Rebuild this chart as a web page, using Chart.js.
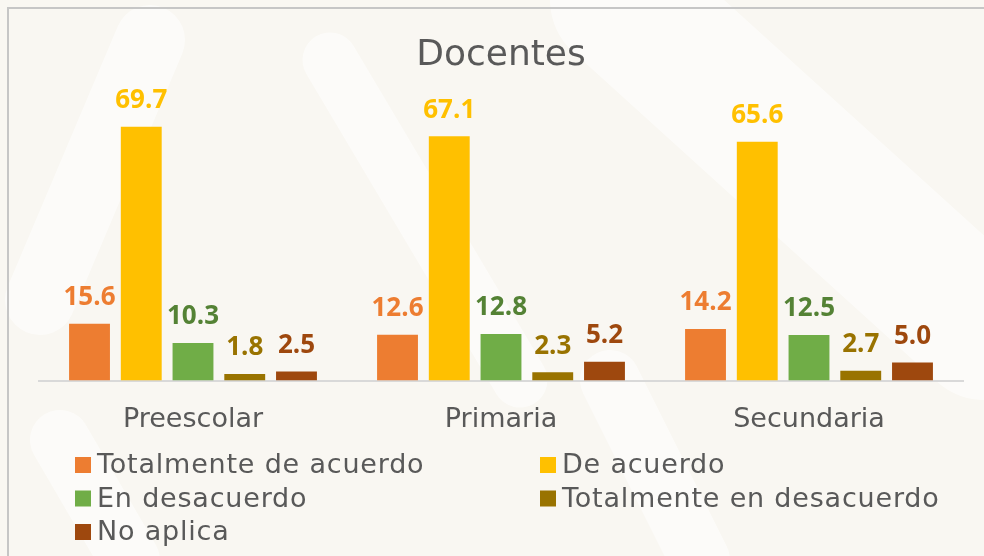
<!DOCTYPE html>
<html>
<head>
<meta charset="utf-8">
<script src="https://cdn.jsdelivr.net/npm/chart.js@4.4.1/dist/chart.umd.min.js"></script>
<style>
  html, body { margin: 0; padding: 0; background: #faf8f3; }
  #wrap { width: 984px; height: 556px; position: relative; }
</style>
</head>
<body>
<div id="wrap"><canvas id="c" width="984" height="556"></canvas></div>
<script>
const categories = ['Preescolar', 'Primaria', 'Secundaria'];
const seriesNames = ['Totalmente de acuerdo', 'De acuerdo', 'En desacuerdo', 'Totalmente en desacuerdo', 'No aplica'];
const totalmenteDeAcuerdo = [15.6, 12.6, 14.2];
const deAcuerdo = [69.7, 67.1, 65.6];
const enDesacuerdo = [10.3, 12.8, 12.5];
const totalmenteEnDesacuerdo = [1.8, 2.3, 2.7];
const noAplica = [2.5, 5.2, 5.0];
const chartTitle = 'Docentes';

const barColors = ['#ED7D31', '#FFC000', '#70AD47', '#997300', '#9E480E'];
const labelColors = ['#ED7D31', '#FFC000', '#548235', '#997300', '#9E480E'];
const seriesValues = [totalmenteDeAcuerdo, deAcuerdo, enDesacuerdo, totalmenteEnDesacuerdo, noAplica];

const textFont = '"DejaVu Sans", sans-serif';
const gray = '#595959';

const backgroundPlugin = {
  id: 'bg',
  beforeDraw(chart) {
    const ctx = chart.ctx;
    ctx.save();
    ctx.fillStyle = '#f9f7f2';
    ctx.fillRect(0, 0, chart.width, chart.height);
    // faint white decorative strokes
    ctx.strokeStyle = 'rgba(255,255,255,0.55)';
    ctx.lineCap = 'round';
    const strokes = [
      [40, 300, 150, 40, 70],
      [330, 60, 520, 380, 55],
      [620, 0, 984, 330, 140],
      [130, 560, 60, 440, 60],
      [610, 380, 700, 560, 60]
    ];
    strokes.forEach(s => {
      ctx.lineWidth = s[4];
      ctx.beginPath();
      ctx.moveTo(s[0], s[1]);
      ctx.lineTo(s[2], s[3]);
      ctx.stroke();
    });
    // border
    ctx.strokeStyle = '#c6c6c6';
    ctx.lineWidth = 2;
    ctx.beginPath();
    ctx.moveTo(8, 556);
    ctx.lineTo(8, 8);
    ctx.lineTo(984, 8);
    ctx.stroke();
    ctx.restore();
  }
};

const dataLabelPlugin = {
  id: 'dataLabels',
  afterDatasetsDraw(chart) {
    const ctx = chart.ctx;
    ctx.save();
    ctx.font = '700 26px "Open Sans", sans-serif';
    ctx.textAlign = 'center';
    ctx.textBaseline = 'middle';
    chart.data.datasets.forEach((ds, i) => {
      const meta = chart.getDatasetMeta(i);
      ctx.fillStyle = labelColors[i];
      meta.data.forEach((bar, j) => {
        ctx.fillText(ds.data[j].toFixed(1), bar.x, bar.y - 26);
      });
    });
    ctx.restore();
  }
};

const gridLegendPlugin = {
  id: 'gridLegend',
  afterDraw(chart) {
    const ctx = chart.ctx;
    const colX = [75, 540];
    const rowY = [465, 498.5, 532];
    ctx.save();
    ctx.font = '27px ' + textFont;
    if ('letterSpacing' in ctx) ctx.letterSpacing = '0.8px';
    ctx.textBaseline = 'middle';
    ctx.textAlign = 'left';
    chart.data.datasets.forEach((ds, i) => {
      const x = colX[i % 2];
      const y = rowY[Math.floor(i / 2)];
      ctx.fillStyle = ds.backgroundColor;
      ctx.fillRect(x, y - 8, 16, 16);
      ctx.fillStyle = gray;
      ctx.fillText(ds.label, x + 22, y + 1);
    });
    ctx.restore();
  }
};

new Chart(document.getElementById('c'), {
  type: 'bar',
  data: {
    labels: categories,
    datasets: seriesNames.map((name, i) => ({
      label: name,
      data: seriesValues[i],
      backgroundColor: barColors[i],
      categoryPercentage: 0.84,
      barPercentage: 0.79
    }))
  },
  options: {
    responsive: false,
    animation: false,
    devicePixelRatio: 1,
    layout: { padding: { left: 39, right: 21, top: 8, bottom: 97 } },
    plugins: {
      legend: { display: false },
      tooltip: { enabled: false },
      title: {
        display: true,
        text: chartTitle,
        color: gray,
        font: { family: textFont, size: 36, weight: 'normal' },
        padding: { top: 26, bottom: 12 }
      }
    },
    scales: {
      x: {
        grid: { display: false, drawTicks: false },
        border: { display: true, color: '#d9d9d9', width: 2 },
        ticks: { color: gray, font: { family: textFont, size: 27 }, padding: 23 }
      },
      y: { display: false, min: 0, max: 80 }
    }
  },
  plugins: [backgroundPlugin, dataLabelPlugin, gridLegendPlugin]
});
</script>
</body>
</html>
